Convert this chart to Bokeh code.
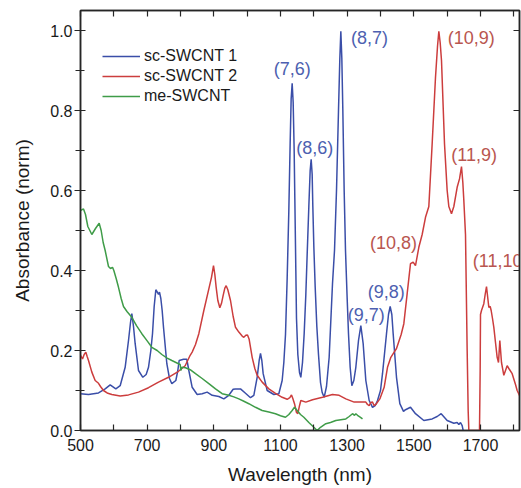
from bokeh.plotting import figure
from bokeh.models import Range1d, LinearAxis, FixedTicker, Legend, LegendItem, NumeralTickFormatter
from bokeh.core.properties import value
from bokeh.embed import file_html
from bokeh.resources import INLINE

# ---------------- data ----------------
sc1_nm = [500, 524, 554, 574, 589, 606, 619, 634, 644, 650, 654, 659, 664, 674, 687, 697, 704, 711, 716, 721,
          726, 731, 734, 737, 741, 745, 749, 759, 767, 774, 786, 792, 796, 809, 819, 825, 835, 850, 865, 880,
          895, 915, 930, 945, 958, 965, 980, 995, 1010, 1020, 1030, 1036, 1040, 1044, 1048, 1060, 1080, 1095,
          1105, 1110, 1115, 1120, 1125, 1129, 1132, 1135, 1138, 1141, 1143, 1146, 1148, 1152, 1157, 1161,
          1166, 1171, 1176, 1180, 1185, 1189, 1192, 1195, 1197, 1200, 1204, 1209, 1214, 1220, 1225, 1231,
          1238, 1246, 1256, 1262, 1268, 1274, 1278, 1281, 1284, 1287, 1291, 1295, 1300, 1304, 1309, 1314,
          1320, 1326, 1334, 1341, 1348, 1356, 1366, 1376, 1384, 1391, 1400, 1406, 1418, 1424, 1429, 1434,
          1438, 1448, 1458, 1469, 1475, 1490, 1505, 1530, 1555, 1570, 1582, 1600, 1620, 1630, 1635, 1640,
          1645, 1648]
sc1_abs = [0.092, 0.090, 0.094, 0.104, 0.114, 0.104, 0.112, 0.158, 0.225, 0.270, 0.292, 0.260, 0.217, 0.150,
           0.133, 0.140, 0.158, 0.200, 0.242, 0.310, 0.352, 0.345, 0.340, 0.346, 0.330, 0.300, 0.258, 0.167,
           0.130, 0.117, 0.125, 0.150, 0.175, 0.178, 0.178, 0.150, 0.108, 0.090, 0.092, 0.096, 0.088, 0.085,
           0.079, 0.088, 0.103, 0.104, 0.104, 0.093, 0.082, 0.088, 0.133, 0.175, 0.193, 0.175, 0.142, 0.100,
           0.090, 0.092, 0.125, 0.170, 0.240, 0.380, 0.550, 0.720, 0.830, 0.868, 0.820, 0.700, 0.580, 0.400,
           0.280, 0.190, 0.145, 0.133, 0.170, 0.242, 0.340, 0.440, 0.560, 0.650, 0.678, 0.640, 0.560, 0.460,
           0.360, 0.260, 0.190, 0.120, 0.095, 0.083, 0.110, 0.183, 0.367, 0.450, 0.600, 0.800, 0.930, 0.998,
           0.930, 0.800, 0.600, 0.450, 0.330, 0.242, 0.158, 0.112, 0.125, 0.158, 0.225, 0.262, 0.217, 0.125,
           0.075, 0.058, 0.062, 0.075, 0.100, 0.142, 0.242, 0.290, 0.310, 0.290, 0.242, 0.133, 0.067, 0.048,
           0.052, 0.058, 0.042, 0.025, 0.029, 0.035, 0.042, 0.025, 0.018, 0.020, 0.015, 0.020, 0.012, 0.0]

sc2_nm = [500, 506, 511, 516, 520, 524, 534, 544, 554, 560, 569, 582, 594, 619, 644, 674, 704, 734, 764, 794,
          814, 829, 835, 845, 855, 870, 885, 893, 899, 903, 907, 912, 918, 923, 928, 933, 937, 942, 950, 958,
          965, 975, 985, 990, 996, 1001, 1006, 1015, 1023, 1030, 1045, 1065, 1085, 1105, 1120, 1128, 1133,
          1137, 1142, 1148, 1152, 1157, 1161, 1176, 1196, 1226, 1256, 1276, 1296, 1321, 1341, 1356, 1361,
          1366, 1371, 1376, 1381, 1386, 1398, 1411, 1421, 1431, 1441, 1448, 1456, 1462, 1470, 1480, 1490,
          1498, 1505, 1515, 1525, 1535, 1545, 1555, 1565, 1571, 1575, 1579, 1583, 1592, 1600, 1605, 1613,
          1620, 1630, 1637, 1643, 1647, 1650, 1655, 1660, 1663, 1665, 1697, 1699, 1700, 1703, 1710, 1714,
          1718, 1722, 1725, 1729, 1732, 1736, 1740, 1745, 1750, 1754, 1758, 1763, 1770, 1775, 1780, 1785,
          1795, 1805, 1810, 1822]
sc2_abs = [0.188, 0.179, 0.190, 0.196, 0.185, 0.175, 0.146, 0.125, 0.118, 0.110, 0.100, 0.093, 0.090, 0.086,
           0.089, 0.096, 0.107, 0.121, 0.133, 0.148, 0.162, 0.188, 0.196, 0.215, 0.242, 0.300, 0.354, 0.383,
           0.412, 0.390, 0.358, 0.325, 0.307, 0.318, 0.338, 0.356, 0.362, 0.352, 0.325, 0.285, 0.258, 0.246,
           0.236, 0.233, 0.238, 0.239, 0.228, 0.183, 0.155, 0.138, 0.121, 0.104, 0.093, 0.083, 0.078, 0.082,
           0.089, 0.080, 0.067, 0.045, 0.042, 0.062, 0.075, 0.071, 0.077, 0.083, 0.090, 0.088, 0.079, 0.071,
           0.071, 0.071, 0.065, 0.062, 0.070, 0.071, 0.062, 0.065, 0.079, 0.108, 0.158, 0.183, 0.196, 0.205,
           0.225, 0.240, 0.267, 0.342, 0.417, 0.421, 0.412, 0.458, 0.490, 0.533, 0.560, 0.717, 0.883, 0.960,
           0.998, 0.970, 0.925, 0.717, 0.600, 0.560, 0.542, 0.560, 0.608, 0.629, 0.660, 0.620, 0.575, 0.490,
           0.200, 0.050, 0.0, 0.0, 0.150, 0.290, 0.300, 0.317, 0.340, 0.360, 0.330, 0.308, 0.310, 0.300,
           0.280, 0.258, 0.220, 0.183, 0.170, 0.225, 0.170, 0.138, 0.150, 0.162, 0.155, 0.142, 0.115, 0.100,
           0.079]

me_nm = [500, 509, 515, 522, 534, 545, 556, 562, 568, 574, 584, 590, 596, 600, 607, 614, 622, 629, 640, 654,
         668, 684, 700, 714, 730, 744, 760, 774, 794, 799, 801, 804, 815, 829, 845, 865, 885, 905, 925, 945,
         960, 975, 990, 1005, 1025, 1045, 1065, 1085, 1100, 1115, 1125, 1135, 1142, 1150, 1160, 1170, 1185,
         1200, 1210, 1220, 1236, 1250, 1266, 1281, 1296, 1306, 1316, 1322, 1326, 1331, 1340, 1346]
me_abs = [0.550, 0.554, 0.540, 0.510, 0.490, 0.505, 0.518, 0.500, 0.470, 0.450, 0.410, 0.405, 0.408, 0.400,
          0.380, 0.358, 0.330, 0.310, 0.297, 0.283, 0.262, 0.242, 0.224, 0.208, 0.200, 0.190, 0.181, 0.175,
          0.167, 0.165, 0.150, 0.158, 0.157, 0.152, 0.142, 0.130, 0.117, 0.104, 0.092, 0.088, 0.084, 0.079,
          0.073, 0.067, 0.058, 0.050, 0.046, 0.042, 0.037, 0.033, 0.040, 0.050, 0.058, 0.050, 0.040, 0.033,
          0.020, 0.008, 0.0, 0.008, 0.017, 0.020, 0.025, 0.027, 0.029, 0.035, 0.042, 0.038, 0.042, 0.038,
          0.033, 0.029]

series_names = ["sc-SWCNT 1", "sc-SWCNT 2", "me-SWCNT"]

blue_labels = ["(7,6)", "(8,6)", "(8,7)", "(9,7)", "(9,8)"]
blue_label_x = [1135, 1203, 1367, 1357, 1417]
blue_label_y = [0.904, 0.707, 0.982, 0.290, 0.347]

red_labels = ["(10,9)", "(11,9)", "(10,8)"]
red_label_x = [1672, 1681, 1439]
red_label_y = [0.982, 0.690, 0.469]
red_edge_labels = ["(11,10)"]
red_edge_x = [1677]
red_edge_y = [0.425]

x_major = [500, 700, 900, 1100, 1300, 1500, 1700]
x_minor = [600, 800, 1000, 1200, 1400, 1600, 1800]
y_major = [0.0, 0.2, 0.4, 0.6, 0.8, 1.0]
y_minor = [0.1, 0.3, 0.5, 0.7, 0.9]

# ---------------- styles ----------------
FONT = "Liberation Sans"
BLUE, RED, GREEN = "#3a4ea8", "#cc3d3d", "#3f9c48"
BLUE_T, RED_T = "#4d5fb0", "#b9564f"
AX = "#262626"

p = figure(width=521, height=488, x_range=Range1d(500, 1817), y_range=Range1d(0, 1.05),
           output_backend="svg", toolbar_location=None,
           min_border_left=80, min_border_right=2, min_border_top=10, min_border_bottom=58)
p.xgrid.visible = False
p.ygrid.visible = False
p.outline_line_color = AX
p.outline_line_width = 1.5
p.background_fill_color = "white"
p.border_fill_color = "white"

r1 = p.line(sc1_nm, sc1_abs, line_color=BLUE, line_width=1.5)
r2 = p.line(sc2_nm, sc2_abs, line_color=RED, line_width=1.5)
r3 = p.line(me_nm, me_abs, line_color=GREEN, line_width=1.5)

p.text(blue_label_x, blue_label_y, text=blue_labels, text_color=BLUE_T, text_font=value(FONT),
       text_font_size="18px", text_align="center", text_baseline="middle")
p.text(red_label_x, red_label_y, text=red_labels, text_color=RED_T, text_font=value(FONT),
       text_font_size="18px", text_align="center", text_baseline="middle")
p.text(red_edge_x, red_edge_y, text=red_edge_labels, text_color=RED_T, text_font=value(FONT),
       text_font_size="18px", text_align="left", text_baseline="middle")

# bottom axis
xa = p.xaxis[0]
xa.ticker = FixedTicker(ticks=x_major, minor_ticks=x_minor)
xa.axis_label = "Wavelength (nm)"
# left axis
ya = p.yaxis[0]
ya.ticker = FixedTicker(ticks=y_major, minor_ticks=y_minor)
ya.formatter = NumeralTickFormatter(format="0.0")
ya.axis_label = "Absorbance (norm)"

for ax in (xa, ya):
    ax.axis_line_color = AX
    ax.axis_line_width = 1.5
    ax.major_tick_line_color = AX
    ax.minor_tick_line_color = AX
    ax.major_tick_line_width = 1.2
    ax.minor_tick_line_width = 1.2
    ax.major_label_text_font = FONT
    ax.major_label_text_font_size = "16px"
    ax.major_label_text_color = "#1a1a1a"
    ax.axis_label_text_font = FONT
    ax.axis_label_text_font_size = "19px"
    ax.axis_label_text_font_style = "normal"
    ax.axis_label_text_color = "#1a1a1a"

xa.major_tick_in = 6
xa.major_tick_out = 0
xa.minor_tick_in = 6
xa.minor_tick_out = 0
xa.major_label_standoff = 8
xa.axis_label_standoff = 10

ya.major_tick_in = 5
ya.major_tick_out = 6
ya.minor_tick_in = 4
ya.minor_tick_out = 5
ya.major_label_standoff = 2
ya.axis_label_standoff = 14

# top and right mirror axes: tick marks only (drawn as minor ticks, so no label texts)
top = LinearAxis(ticker=FixedTicker(ticks=[], minor_ticks=x_major + x_minor))
right = LinearAxis(ticker=FixedTicker(ticks=[], minor_ticks=y_major[1:]))
for ax in (top, right):
    ax.axis_line_color = AX
    ax.axis_line_width = 1.5
    ax.major_tick_line_color = None
    ax.minor_tick_line_color = AX
    ax.minor_tick_line_width = 1.2
    ax.minor_tick_in = 6
    ax.minor_tick_out = 0
    ax.major_label_standoff = 0
p.add_layout(top, "above")
p.add_layout(right, "right")

legend = Legend(items=[LegendItem(label=series_names[0], renderers=[r1]),
                       LegendItem(label=series_names[1], renderers=[r2]),
                       LegendItem(label=series_names[2], renderers=[r3])],
                location=(22, 324), orientation="vertical")
legend.border_line_color = None
legend.background_fill_alpha = 0
legend.label_text_font = FONT
legend.label_text_font_size = "16px"
legend.label_text_color = "#1a1a1a"
legend.glyph_width = 38
legend.glyph_height = 20
legend.label_height = 20
legend.label_standoff = 4
legend.spacing = 0
legend.padding = 5
legend.margin = 0
p.add_layout(legend, "center")

open("out.html", "w").write(file_html(p, INLINE))
